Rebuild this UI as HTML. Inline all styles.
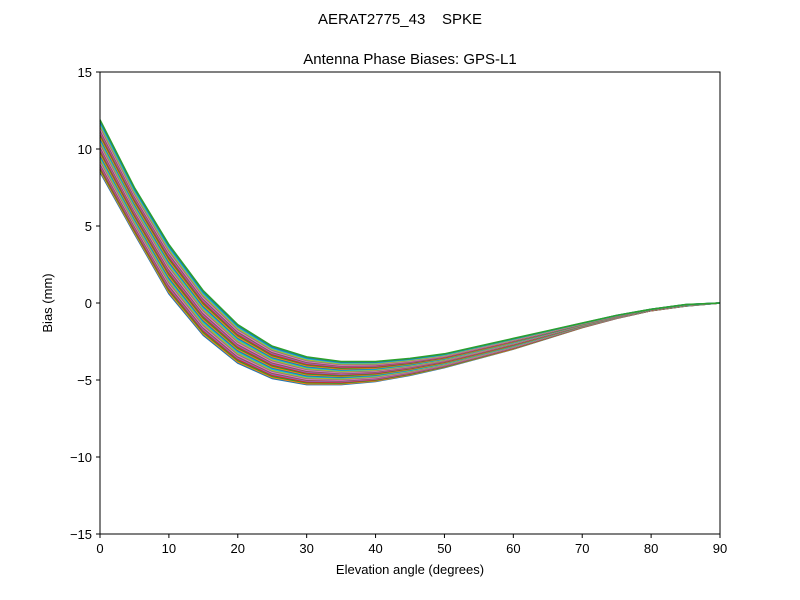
<!DOCTYPE html>
<html><head><meta charset="utf-8">
<style>
body{margin:0;background:#fff;}
svg{display:block;font-family:"Liberation Sans","DejaVu Sans",sans-serif;}
</style></head>
<body>
<svg id="s" width="800" height="600" xmlns="http://www.w3.org/2000/svg">
<rect width="800" height="600" fill="#fff"/>
<text x="400" y="24" font-size="15" text-anchor="middle" xml:space="preserve">AERAT2775_43&#160;&#160;&#160;&#160;SPKE</text>
<text x="410" y="64" font-size="15" text-anchor="middle">Antenna Phase Biases: GPS-L1</text>
<g id="lines"></g>
<rect x="100" y="72" width="620" height="462" fill="none" stroke="#000" stroke-width="1"/>
<g id="ticks" font-size="13" stroke="none"></g>
<text x="410" y="574" font-size="13" text-anchor="middle">Elevation angle (degrees)</text>
<text transform="translate(52,303) rotate(-90)" font-size="13" text-anchor="middle">Bias (mm)</text>
</svg>
<script>
var top_=[11.9,7.5,3.8,0.8,-1.4,-2.8,-3.5,-3.8,-3.8,-3.6,-3.3,-2.8,-2.3,-1.8,-1.3,-0.8,-0.4,-0.1,0];
var bot=[8.5,4.5,0.6,-2.1,-3.9,-4.9,-5.3,-5.3,-5.1,-4.7,-4.2,-3.6,-3.0,-2.3,-1.6,-1.0,-0.5,-0.2,0];
var cols=["#1f77b4","#ff7f0e","#2ca02c","#d62728","#9467bd","#8c564b","#e377c2","#7f7f7f","#bcbd22","#17becf"];
var N=32,g=document.getElementById('lines'),h='';
function X(d){return 100+d*620/90;}function Y(v){return 303-v*15.4;}
for(var k=0;k<N;k++){var t=k/(N-1),p='';
for(var i=0;i<19;i++){var v=bot[i]+(top_[i]-bot[i])*t;p+=(i?'L':'M')+X(i*5).toFixed(1)+','+Y(v).toFixed(1);}
h+='<path d="'+p+'" fill="none" stroke="'+(k==N-1?"#2ca02c":cols[k%10])+'" stroke-width="1.5"/>';}
g.innerHTML=h;
var tk='';
for(var d=0;d<=90;d+=10){var x=X(d);tk+='<line x1="'+x+'" y1="534" x2="'+x+'" y2="538" stroke="#000"/><text x="'+x+'" y="553" text-anchor="middle">'+d+'</text>';}
for(var v=-15;v<=15;v+=5){var y=Y(v);tk+='<line x1="96" y1="'+y+'" x2="100" y2="'+y+'" stroke="#000"/><text x="92" y="'+(y+5)+'" text-anchor="end">'+(v<0?'\u2212'+(-v):v)+'</text>';}
document.getElementById('ticks').innerHTML=tk;
</script>
</body></html>
